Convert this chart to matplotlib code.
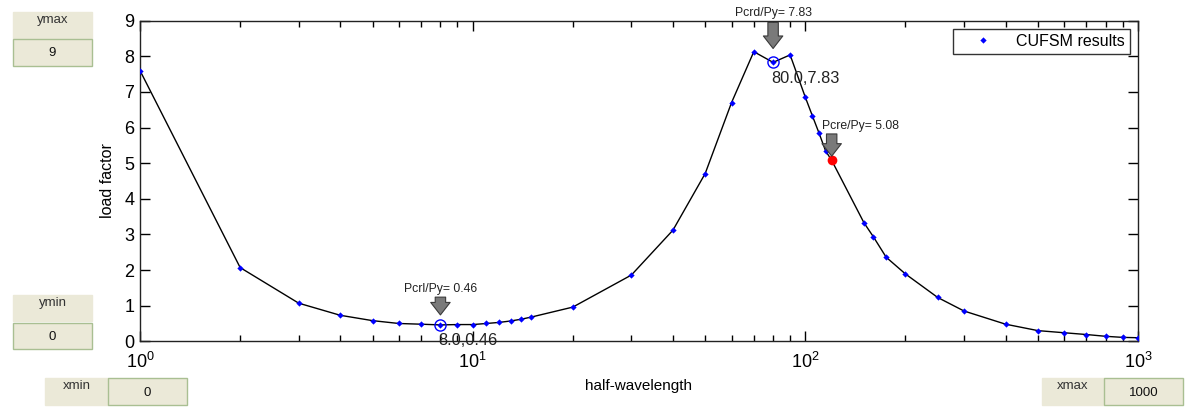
import matplotlib.pyplot as plt
from matplotlib.patches import Rectangle

plt.rcParams['font.family'] = ['Liberation Sans', 'DejaVu Sans']
plt.rcParams['mathtext.default'] = 'regular'

# signature curve: half-wavelength vs load factor
half_wavelength = [1, 2, 3, 4, 5, 6, 7, 8, 9, 10, 11, 12, 13, 14, 15, 20, 30, 40,
                   50, 60, 70, 80, 90, 100, 105, 110, 115, 120, 150, 160, 175,
                   200, 250, 300, 400, 500, 600, 700, 800, 900, 1000]
load_factor = [7.60, 2.07, 1.07, 0.73, 0.58, 0.50, 0.48, 0.46, 0.47, 0.47, 0.50,
               0.53, 0.57, 0.62, 0.68, 0.96, 1.86, 3.12, 4.71, 6.70, 8.13, 7.83,
               8.04, 6.85, 6.33, 5.84, 5.35, 5.08, 3.33, 2.94, 2.36, 1.89, 1.23,
               0.85, 0.48, 0.30, 0.24, 0.19, 0.14, 0.11, 0.10]

# critical buckling points
crit_names = ['Pcrl/Py', 'Pcrd/Py', 'Pcre/Py']
crit_x = [8, 80, 120]
crit_y = [0.46, 7.83, 5.08]

# limit boxes beside the plot
box_names = ['ymax', 'ymin', 'xmin', 'xmax']
box_values = ['9', '0', '0', '1000']

W, H = 1185, 412
fig = plt.figure(figsize=(W / 100, H / 100), dpi=100)
fig.patch.set_facecolor('white')
ax = fig.add_axes([140 / W, (H - 341.3) / H, 998 / W, 320.6 / H])

ax.plot(half_wavelength, load_factor, '-', color='black', lw=1, zorder=3)
ax.plot(half_wavelength, load_factor, 'D', color='#0000ff', ms=3.2, mew=0,
        ls='none', label='CUFSM results', zorder=4)

ax.set_xscale('log')
ax.set_xlim(1, 1000)
ax.set_ylim(0, 9)
ax.set_yticks(range(0, 10))
ax.tick_params(which='both', direction='in', top=True, right=True,
               labelsize=13, width=1)
ax.tick_params(which='major', length=7.5)
ax.tick_params(which='minor', length=4)
ax.tick_params(axis='y', pad=4)
ax.tick_params(axis='x', pad=7.5)
for s in ax.spines.values():
    s.set_linewidth(1)
    s.set_color('#222222')

ax.set_xlabel('half-wavelength', fontsize=11, labelpad=5)
ax.set_ylabel('load factor', fontsize=11.5, labelpad=7)

leg = ax.legend(loc='upper right', bbox_to_anchor=(0.992, 0.974), fontsize=11.5,
                frameon=True, fancybox=False, borderpad=0.3, handlelength=3.2,
                handletextpad=0.5, borderaxespad=0)
leg.get_frame().set_edgecolor('black')
leg.get_frame().set_linewidth(1)

# circled minima and the red point
ax.plot(crit_x[:2], crit_y[:2], 'o', ms=8, mfc='none', mec='#0000ff', mew=1, zorder=5)
ax.plot(crit_x[2], crit_y[2], 'o', ms=7, color='#ff0000', mew=0, zorder=5)

# arrow tail offset, gap above point, text offset, text alignment
arrow_layout = [(20, 7.2, (0, 26), 'center'),
                (28.8, 10, (0, 35.6), 'center'),
                (19, 3.0, (-7.2, 25), 'left')]
for name, x, y, (tail, gap, toff, ha) in zip(crit_names, crit_x, crit_y, arrow_layout):
    ax.annotate('', xy=(x, y), xytext=(0, tail), textcoords='offset points',
                arrowprops=dict(arrowstyle='simple,head_length=0.9,head_width=1.4,tail_width=0.75',
                                fc='#7a7a7a', ec='#3a3a3a', lw=0.8, shrinkA=0,
                                shrinkB=gap, mutation_scale=10),
                zorder=6, annotation_clip=False)
    ax.annotate('%s= %.2f' % (name, y), xy=(x, y), xytext=toff,
                textcoords='offset points', ha=ha, va='center', fontsize=8.8,
                color='#222222', annotation_clip=False, zorder=6)

# data tips
for x, y in zip(crit_x[:2], crit_y[:2]):
    ax.annotate('%.1f,%.2f' % (x, y), xy=(x, y), xytext=(-1.5, -6),
                textcoords='offset points', ha='left', va='top', fontsize=11.8,
                color='#222222', annotation_clip=False, zorder=6)

# limit boxes (pixel layout: label box, value box)
box_layout = [((13, 12, 92, 38), (13, 39, 92, 66)),
              ((13, 295, 92, 321), (13, 323, 92, 349)),
              ((45, 378, 108, 405), (108, 378, 187, 405)),
              ((1042, 378, 1104, 405), (1104, 378, 1183, 405))]


def px_rect(x0, y0, x1, y1, ec):
    r = Rectangle((x0 / W, 1 - y1 / H), (x1 - x0) / W, (y1 - y0) / H,
                  transform=fig.transFigure, fc='#ebe9d8', ec=ec, lw=1)
    fig.patches.append(r)


for name, val, (lb, vb) in zip(box_names, box_values, box_layout):
    px_rect(*lb, ec='#ebe9d8')
    px_rect(*vb, ec='#a9bf92')
    fig.text((lb[0] + lb[2]) / 2 / W, 1 - (lb[1] + 8) / H, name, ha='center',
             va='center', fontsize=9.5, color='#333333')
    fig.text((vb[0] + vb[2]) / 2 / W, 1 - ((vb[1] + vb[3]) / 2 + 1) / H, val,
             ha='center', va='center', fontsize=9.5, color='#111111')

fig.savefig('out.png', dpi=100)
